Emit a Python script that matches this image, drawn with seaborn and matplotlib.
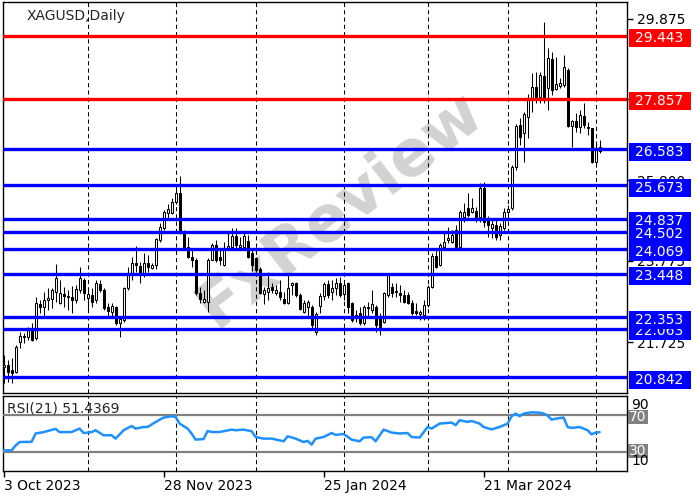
import numpy as np
import pandas as pd
import matplotlib
matplotlib.use("Agg")
import matplotlib.pyplot as plt
import matplotlib.transforms as mtransforms
from matplotlib.patches import Rectangle
import seaborn as sns

# ---------------- data ----------------
symbol_title = "XAGUSD,Daily"
holidays = ["2023-12-25", "2024-01-01", "2024-03-29"]

opens = [21.10, 21.15, 21.02, 20.97, 21.73, 21.84, 21.85, 22.03, 21.83, 22.68,
         22.61, 22.79, 22.81, 22.99, 22.71, 22.94, 22.86, 22.86, 22.79, 23.04,
         23.29, 22.84, 22.91, 22.79, 23.19, 23.04, 22.61, 22.48, 22.61, 22.21,
         22.28, 23.09, 23.42, 23.72, 23.64, 23.42, 23.72, 23.59, 23.67, 24.30,
         24.60, 24.98, 24.98, 25.26, 25.48, 24.50, 24.12, 23.87, 23.79, 22.96,
         22.74, 22.74, 23.79, 24.17, 23.87, 23.67, 24.10, 24.12, 24.40, 24.12,
         24.12, 24.27, 23.97, 23.84, 23.57, 22.94, 22.99, 23.11, 22.96, 22.99,
         22.81, 22.71, 23.16, 23.21, 22.91, 22.48, 22.61, 22.61, 21.98, 22.63,
         22.89, 23.19, 22.99, 23.09, 23.21, 22.94, 23.21, 22.71, 22.33, 22.46,
         22.21, 22.58, 22.53, 22.61, 22.36, 22.23, 22.91, 23.11, 22.99, 22.96,
         22.91, 22.91, 22.71, 22.51, 22.43, 22.41, 22.66, 23.11, 23.90, 23.67,
         24.12, 24.30, 24.25, 24.55, 24.12, 24.88, 25.11, 25.00, 25.03, 24.88,
         25.61, 24.80, 24.60, 24.68, 24.42, 24.60, 25.00, 25.11, 26.14, 27.20,
         27.00, 27.40, 27.88, 28.16, 27.91, 28.43, 28.13, 28.86, 28.11, 28.18,
         28.21, 28.59, 27.17, 27.30, 27.15, 27.43, 27.12, 27.12, 26.27, 26.64]

highs = [21.40, 21.27, 21.32, 21.65, 21.98, 21.95, 22.10, 22.21, 22.86, 22.79,
         22.99, 23.09, 23.09, 23.69, 23.29, 23.11, 23.04, 23.14, 23.16, 23.62,
         23.34, 23.09, 23.09, 23.29, 23.29, 23.09, 22.71, 22.71, 22.63, 22.33,
         23.11, 23.62, 23.87, 24.15, 23.74, 23.97, 23.92, 23.72, 24.35, 24.73,
         25.06, 25.21, 25.36, 25.69, 25.91, 24.55, 24.37, 24.05, 23.84, 23.11,
         23.04, 23.84, 24.22, 24.30, 24.05, 24.25, 24.47, 24.60, 24.60, 24.37,
         24.47, 24.42, 24.05, 23.87, 23.62, 23.11, 23.49, 23.21, 23.16, 23.29,
         22.99, 23.42, 23.24, 23.24, 22.96, 22.79, 22.79, 22.66, 22.48, 22.96,
         23.24, 23.29, 23.29, 23.34, 23.37, 23.21, 23.24, 22.74, 22.53, 22.61,
         22.66, 22.74, 23.04, 22.66, 22.46, 22.99, 23.47, 23.21, 23.21, 23.16,
         23.04, 22.99, 22.79, 22.71, 22.53, 22.79, 23.16, 23.97, 24.05, 24.22,
         24.47, 24.63, 24.55, 24.68, 25.06, 25.23, 25.48, 25.36, 25.13, 25.74,
         25.76, 24.90, 24.85, 24.80, 24.73, 25.11, 25.18, 26.19, 27.22, 27.38,
         27.53, 27.98, 28.51, 28.54, 28.54, 29.80, 29.14, 29.04, 28.91, 28.38,
         28.96, 28.64, 27.33, 27.50, 27.58, 27.75, 27.27, 27.12, 26.77, 26.82]

lows = [20.69, 20.72, 20.69, 20.94, 21.57, 21.70, 21.78, 21.75, 21.78, 22.46,
        22.36, 22.53, 22.58, 22.74, 22.68, 22.61, 22.53, 22.46, 22.71, 22.96,
        22.79, 22.53, 22.61, 22.71, 22.99, 22.53, 22.36, 22.36, 22.16, 21.85,
        22.23, 23.04, 23.29, 23.49, 23.21, 23.37, 23.49, 23.57, 23.57, 24.25,
        24.55, 24.80, 24.95, 25.21, 24.45, 24.10, 23.84, 23.62, 22.91, 22.71,
        22.71, 22.48, 23.79, 23.74, 23.67, 23.64, 24.05, 24.10, 24.10, 24.05,
        24.05, 23.84, 23.52, 23.49, 22.94, 22.68, 22.79, 22.96, 22.91, 22.79,
        22.68, 22.68, 22.91, 22.86, 22.53, 22.46, 22.36, 22.08, 21.90, 22.46,
        22.79, 22.84, 22.79, 22.91, 22.86, 22.79, 22.46, 22.23, 22.23, 22.16,
        22.16, 22.33, 22.46, 21.98, 21.90, 22.21, 22.86, 22.86, 22.86, 22.74,
        22.71, 22.68, 22.41, 22.41, 22.28, 22.28, 22.61, 23.09, 23.59, 23.64,
        24.05, 24.22, 24.22, 24.05, 24.12, 24.75, 24.88, 24.98, 24.75, 24.75,
        24.63, 24.37, 24.35, 24.30, 24.30, 24.55, 24.93, 25.06, 26.06, 26.69,
        26.27, 26.87, 27.53, 27.75, 27.75, 27.75, 27.58, 27.96, 28.08, 28.13,
        28.16, 27.15, 26.64, 27.02, 27.00, 27.12, 26.95, 26.24, 26.14, 26.49]

closes = [21.15, 20.97, 20.94, 21.60, 21.88, 21.87, 22.03, 21.78, 22.71, 22.61,
          22.79, 22.84, 23.04, 23.34, 22.96, 22.89, 22.89, 22.79, 23.06, 23.34,
          22.96, 22.94, 22.74, 23.21, 23.04, 22.58, 22.51, 22.63, 22.21, 22.31,
          23.09, 23.42, 23.72, 23.67, 23.42, 23.72, 23.62, 23.67, 24.32, 24.63,
          25.00, 25.08, 25.26, 25.48, 24.50, 24.12, 23.87, 23.79, 22.96, 22.81,
          22.81, 23.79, 24.17, 23.79, 23.79, 24.10, 24.15, 24.40, 24.17, 24.17,
          24.40, 23.87, 23.67, 23.54, 22.96, 23.04, 23.09, 23.04, 23.04, 22.86,
          22.71, 23.09, 23.21, 22.91, 22.56, 22.71, 22.74, 22.16, 22.43, 22.89,
          23.19, 22.91, 23.09, 23.21, 22.91, 23.16, 22.61, 22.28, 22.41, 22.21,
          22.61, 22.61, 22.68, 22.16, 22.10, 22.96, 23.42, 22.96, 23.01, 22.91,
          22.74, 22.71, 22.46, 22.46, 22.48, 22.66, 23.11, 23.90, 23.62, 24.17,
          24.25, 24.35, 24.42, 24.12, 25.00, 25.00, 24.93, 25.11, 24.88, 25.61,
          24.75, 24.68, 24.70, 24.37, 24.65, 25.00, 25.08, 26.14, 27.17, 26.90,
          27.48, 27.88, 28.16, 27.91, 28.46, 27.91, 28.89, 28.08, 28.23, 28.26,
          28.66, 27.17, 27.30, 27.15, 27.45, 27.20, 27.15, 26.27, 26.62, 26.54]

# RSI(21) read at sampled bars (bar number, value)
rsi_bar = [0, 2, 3, 4, 7, 8, 10, 13, 14, 17, 19, 20, 22, 23, 25, 27, 28, 30, 32, 33,
           35, 36, 38, 40, 42, 43, 44, 46, 47, 48, 50, 51, 52, 54, 57, 58, 60, 62, 63, 65,
           67, 70, 71, 73, 75, 76, 77, 78, 80, 82, 83, 85, 87, 89, 90, 92, 93, 95, 97, 99,
           101, 102, 104, 106, 107, 109, 112, 113, 114, 116, 117, 119, 120, 122, 124, 126, 127, 128, 129, 130,
           132, 134, 135, 136, 137, 138, 140, 141, 142, 144, 145, 146, 147, 148, 149]
rsi_val = [31.8, 31.8, 37.0, 40.8, 41.0, 50.0, 51.5, 55.0, 51.5, 51.6, 55.3, 50.5, 51.5, 53.5, 48.1, 48.1, 44.5, 53.5, 58.1, 55.3,
           57.0, 57.0, 62.4, 67.2, 68.6, 68.0, 60.7, 55.3, 49.9, 43.4, 44.0, 52.7, 51.6, 51.6, 54.2, 53.5, 54.2, 52.5, 46.2, 44.5,
           44.5, 41.6, 47.0, 44.5, 40.8, 42.0, 38.0, 44.5, 46.2, 50.5, 48.5, 49.5, 43.4, 41.6, 45.6, 46.0, 41.6, 54.2, 51.0, 50.0,
           50.5, 46.2, 45.6, 57.0, 55.3, 60.7, 61.8, 59.0, 64.3, 62.5, 63.5, 60.7, 57.0, 54.5, 57.0, 60.7, 68.6, 71.5, 68.6, 71.5,
           72.9, 72.5, 71.5, 69.4, 65.0, 66.0, 67.2, 57.0, 56.0, 57.0, 55.3, 53.5, 49.1, 50.9, 51.4369]
rsi_label = "RSI(21) 51.4369"

red_levels = [29.443, 27.857]
blue_levels = [26.583, 25.673, 24.837, 24.502, 24.069, 23.448, 22.063, 22.353, 20.842]
price_ticks = [29.875, 27.850, 25.800, 23.775, 21.725]
rsi_levels = [70, 30]
rsi_scale_labels = ["90", "10"]
date_label_days = ["2023-10-03", "2023-11-28", "2024-01-25", "2024-03-21"]

# ---------------- build frame ----------------
dates = pd.bdate_range("2023-10-03", periods=len(opens), freq="C", holidays=holidays)
df = pd.DataFrame({"date": dates, "open": opens, "high": highs, "low": lows, "close": closes})
df["bar"] = np.arange(len(df))
month_start = df.index[df["date"].dt.month != df["date"].dt.month.shift(1)][1:]
label_bars = [int(df.index[df["date"] == pd.Timestamp(d)][0]) for d in date_label_days]
label_texts = [f"{pd.Timestamp(d).day} {pd.Timestamp(d):%b %Y}" for d in date_label_days]

sns.set_style("white")
plt.rcParams["font.family"] = ["DejaVu Sans"]

fig = plt.figure(figsize=(7, 5), dpi=100)
ax1 = fig.add_axes([3 / 700, 107 / 500, 624 / 700, 391 / 500])
ax2 = fig.add_axes([3 / 700, 29 / 500, 624 / 700, 75 / 500], sharex=ax1)

# ---- candles ----
up = df["close"] >= df["open"]
body_lo = np.minimum(df["open"], df["close"])
body_h = np.maximum((df["close"] - df["open"]).abs(), 0.015)
ax1.vlines(df["bar"], df["low"], df["high"], color="black", lw=0.75, zorder=3)
ax1.bar(df["bar"], body_h, bottom=body_lo, width=0.55,
        color=np.where(up, "white", "black"), edgecolor="black", linewidth=0.75, zorder=4)

# grid (month starts)
for a in (ax1, ax2):
    for m in month_start:
        a.axvline(m, color="black", lw=0.75, ls=(0, (4, 3)), zorder=1)

# watermark
ax1.text(0.54, 0.47, "FxReview", transform=ax1.transAxes, fontsize=46, fontweight="bold",
         color="#d2d2d2", rotation=38, ha="center", va="center", zorder=0.5)

trans1 = mtransforms.blended_transform_factory(ax1.transAxes, ax1.transData)
ppu = 391 / (30.30 - 20.44)  # pixels per price unit
box_h = 18 / ppu
off = 2.5 / ppu
zo = 10
for lv in red_levels:
    ax1.axhline(lv, color="#ff0000", lw=2.4, zorder=5)
for lv in blue_levels:
    ax1.axhline(lv, color="#0000ff", lw=2.4, zorder=5)
for lv, col in [(v, "#ff0000") for v in red_levels] + [(v, "#0000ff") for v in blue_levels]:
    ax1.add_patch(Rectangle((1.0032, lv - off - box_h / 2), 62 / 624, box_h, transform=trans1,
                            facecolor=col, edgecolor="none", clip_on=False, zorder=zo))
    ax1.text(1.052, lv - off, f"{lv:.3f}", transform=trans1, color="white", fontsize=10,
             ha="center", va="center", clip_on=False, zorder=zo + 0.5)
    zo += 1

ax1.set_xlim(-0.15, 155.85)
ax1.set_ylim(20.44, 30.30)
ax1.yaxis.tick_right()
ax1.set_yticks(price_ticks)
ax1.set_yticklabels([f"{t:.3f}" for t in price_ticks])
ax1.tick_params(axis="y", right=True, left=False, length=4, width=1, pad=3, labelsize=10,
                colors="black")
ax1.tick_params(axis="x", bottom=False, labelbottom=False)
ax1.text((27 - 3) / 624, (393 - 16) / 391, symbol_title, transform=ax1.transAxes,
         fontsize=10, ha="left", va="center", zorder=20)

# ---- RSI ----
sns.lineplot(x=rsi_bar, y=rsi_val, ax=ax2, color="#1e90ff", lw=1.8, zorder=4)
for lv in rsi_levels:
    ax2.axhline(lv, color="#808080", lw=1.6, zorder=3)
ax2.set_ylim(9.5, 90.5)
ax2.set_yticks([])
trans2 = mtransforms.blended_transform_factory(ax2.transAxes, ax2.transData)
for lv, yc in zip(rsi_levels, [67.5, 30.8]):
    ax2.add_patch(Rectangle((1.0016, yc - 7.5), 20 / 624, 15, transform=trans2,
                            facecolor="#808080", edgecolor="none", clip_on=False, zorder=10))
    ax2.text(1.0175, yc, str(lv), transform=trans2, color="white", fontsize=10,
             ha="center", va="center", clip_on=False, zorder=11)
for txt, yc in zip(rsi_scale_labels, [80.5, 20.0]):
    ax2.text(1.0215, yc, txt, transform=trans2, color="black", fontsize=10,
             ha="center", va="center", clip_on=False, zorder=12)
ax2.text(4 / 624, 0.83, rsi_label, transform=ax2.transAxes, fontsize=10,
         ha="left", va="center", zorder=20)

ax2.set_xticks(label_bars)
ax2.set_xticklabels(label_texts)
for lbl in ax2.get_xticklabels():
    lbl.set_ha("left")
ax2.tick_params(axis="x", bottom=True, length=4, width=1, pad=2, labelsize=10, colors="black")
ax2.set_xlabel("")
ax2.set_ylabel("")

for a in (ax1, ax2):
    for s in a.spines.values():
        s.set_visible(True)
        s.set_color("black")
        s.set_linewidth(1.0)

fig.savefig("out.png", dpi=100)
